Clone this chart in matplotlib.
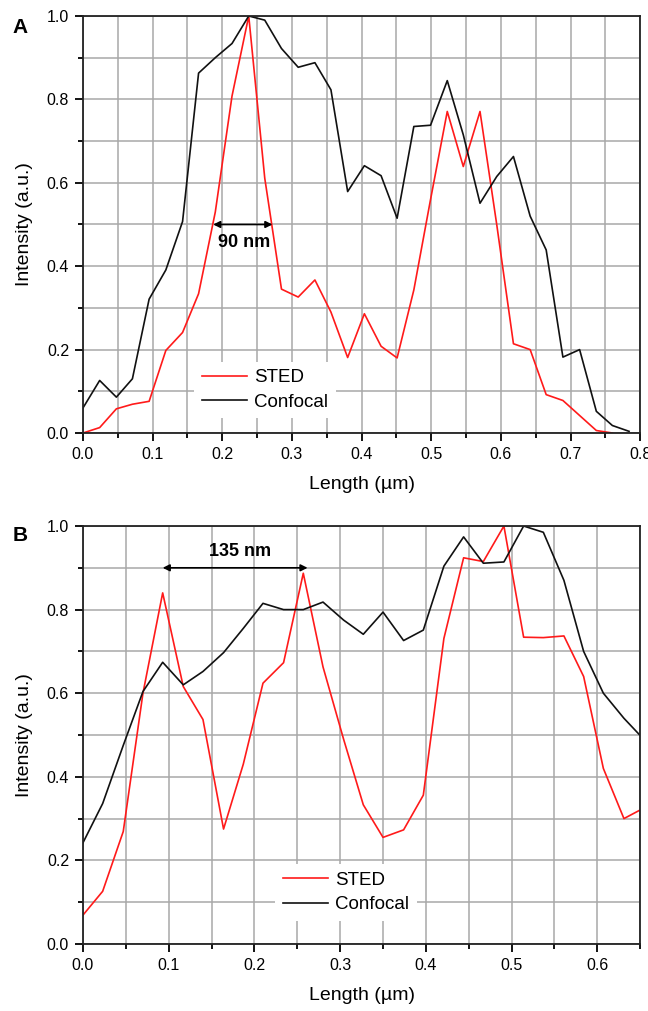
import matplotlib
matplotlib.use("Agg")
import matplotlib.pyplot as plt
from matplotlib.ticker import MultipleLocator, FormatStrFormatter

plt.rcParams['font.family'] = ['Liberation Sans', 'DejaVu Sans']

# panel A
xa = [0.0, 0.024, 0.048, 0.071, 0.095, 0.119, 0.143, 0.166, 0.190, 0.214,
      0.238, 0.261, 0.285, 0.309, 0.333, 0.356, 0.380, 0.404, 0.428, 0.451,
      0.475, 0.499, 0.523, 0.546, 0.570, 0.594, 0.618, 0.642, 0.665, 0.689,
      0.713, 0.737, 0.760, 0.784]
sted_a = [0.0, 0.013, 0.058, 0.069, 0.076, 0.198, 0.241, 0.334, 0.53, 0.808,
          1.0, 0.611, 0.345, 0.326, 0.367, 0.29, 0.181, 0.286, 0.208, 0.180,
          0.343, 0.56, 0.771, 0.639, 0.771, 0.50, 0.214, 0.200, 0.092, 0.078,
          0.042, 0.006, 0.0]
conf_a = [0.060, 0.126, 0.086, 0.130, 0.321, 0.391, 0.507, 0.863, 0.90, 0.934,
          1.0, 0.990, 0.922, 0.877, 0.888, 0.823, 0.579, 0.641, 0.617, 0.515,
          0.735, 0.738, 0.845, 0.715, 0.551, 0.615, 0.663, 0.52, 0.439, 0.182,
          0.200, 0.052, 0.018, 0.004]

# panel B
xb = [0.0, 0.023, 0.047, 0.070, 0.093, 0.117, 0.140, 0.164, 0.187, 0.210,
      0.234, 0.257, 0.280, 0.304, 0.327, 0.350, 0.374, 0.397, 0.421, 0.444,
      0.467, 0.491, 0.514, 0.537, 0.561, 0.584, 0.607, 0.631, 0.654]
sted_b = [0.069, 0.126, 0.269, 0.60, 0.840, 0.616, 0.537, 0.275, 0.43, 0.624,
          0.673, 0.887, 0.663, 0.49, 0.333, 0.255, 0.273, 0.356, 0.731, 0.924,
          0.915, 1.0, 0.734, 0.733, 0.737, 0.64, 0.42, 0.30, 0.325]
conf_b = [0.242, 0.336, 0.475, 0.604, 0.674, 0.620, 0.652, 0.697, 0.755, 0.815,
          0.800, 0.800, 0.818, 0.775, 0.741, 0.794, 0.726, 0.751, 0.904, 0.974,
          0.911, 0.914, 1.0, 0.985, 0.87, 0.70, 0.60, 0.54, 0.49]

fig = plt.figure(figsize=(6.48, 10.11), dpi=100)
ax1 = fig.add_axes([0.128, 0.5717, 0.860, 0.4125])
ax2 = fig.add_axes([0.128, 0.0663, 0.860, 0.4134])


def style(ax, xmax):
    ax.set_xlim(0, xmax)
    ax.set_ylim(0, 1.0)
    ax.xaxis.set_major_locator(MultipleLocator(0.1))
    ax.xaxis.set_minor_locator(MultipleLocator(0.05))
    ax.yaxis.set_major_locator(MultipleLocator(0.2))
    ax.yaxis.set_minor_locator(MultipleLocator(0.1))
    ax.grid(True, which='both', color='#a8a8a8', lw=1.1)
    ax.set_axisbelow(True)
    ax.tick_params(which='both', direction='out', labelsize=11.5, width=1.3, pad=4)
    ax.tick_params(which='major', length=6)
    ax.tick_params(which='minor', length=3.6)
    for s in ax.spines.values():
        s.set_linewidth(1.3)
        s.set_color('#222222')
    ax.xaxis.set_major_formatter(FormatStrFormatter('%.1f'))
    ax.yaxis.set_major_formatter(FormatStrFormatter('%.1f'))
    ax.set_xlabel('Length (µm)', fontsize=14, labelpad=10)
    ax.set_ylabel('Intensity (a.u.)', fontsize=14, labelpad=10)


def add_legend(ax, anchor):
    leg = ax.legend(loc='lower left', bbox_to_anchor=anchor, frameon=True,
                    fontsize=13.5, handlelength=2.4, handletextpad=0.4,
                    borderpad=0.4, labelspacing=0.4, fancybox=False,
                    borderaxespad=0)
    leg.get_frame().set_edgecolor('none')
    leg.get_frame().set_alpha(1.0)


style(ax1, 0.8)
ax1.plot(xa[:len(sted_a)], sted_a, color='#ff1a1a', lw=1.2, label='STED')
ax1.plot(xa, conf_a, color='#111111', lw=1.2, label='Confocal')
add_legend(ax1, (0.2, 0.035))
ax1.annotate('', xy=(0.187, 0.5), xytext=(0.272, 0.5),
             arrowprops=dict(arrowstyle='<|-|>', color='black', lw=1.2,
                             mutation_scale=10, shrinkA=0, shrinkB=0))
ax1.text(0.232, 0.458, '90 nm', fontsize=13, fontweight='bold', ha='center', va='center')
fig.text(0.02, 0.973, 'A', fontsize=15, fontweight='bold', va='center')

style(ax2, 0.65)
ax2.plot(xb, sted_b, color='#ff1a1a', lw=1.2, label='STED')
ax2.plot(xb, conf_b, color='#111111', lw=1.2, label='Confocal')
add_legend(ax2, (0.345, 0.055))
ax2.annotate('', xy=(0.093, 0.9), xytext=(0.262, 0.9),
             arrowprops=dict(arrowstyle='<|-|>', color='black', lw=1.2,
                             mutation_scale=10, shrinkA=0, shrinkB=0))
ax2.text(0.183, 0.938, '135 nm', fontsize=13, fontweight='bold', ha='center', va='center')
fig.text(0.02, 0.470, 'B', fontsize=15, fontweight='bold', va='center')

fig.savefig('out.png', dpi=100)
